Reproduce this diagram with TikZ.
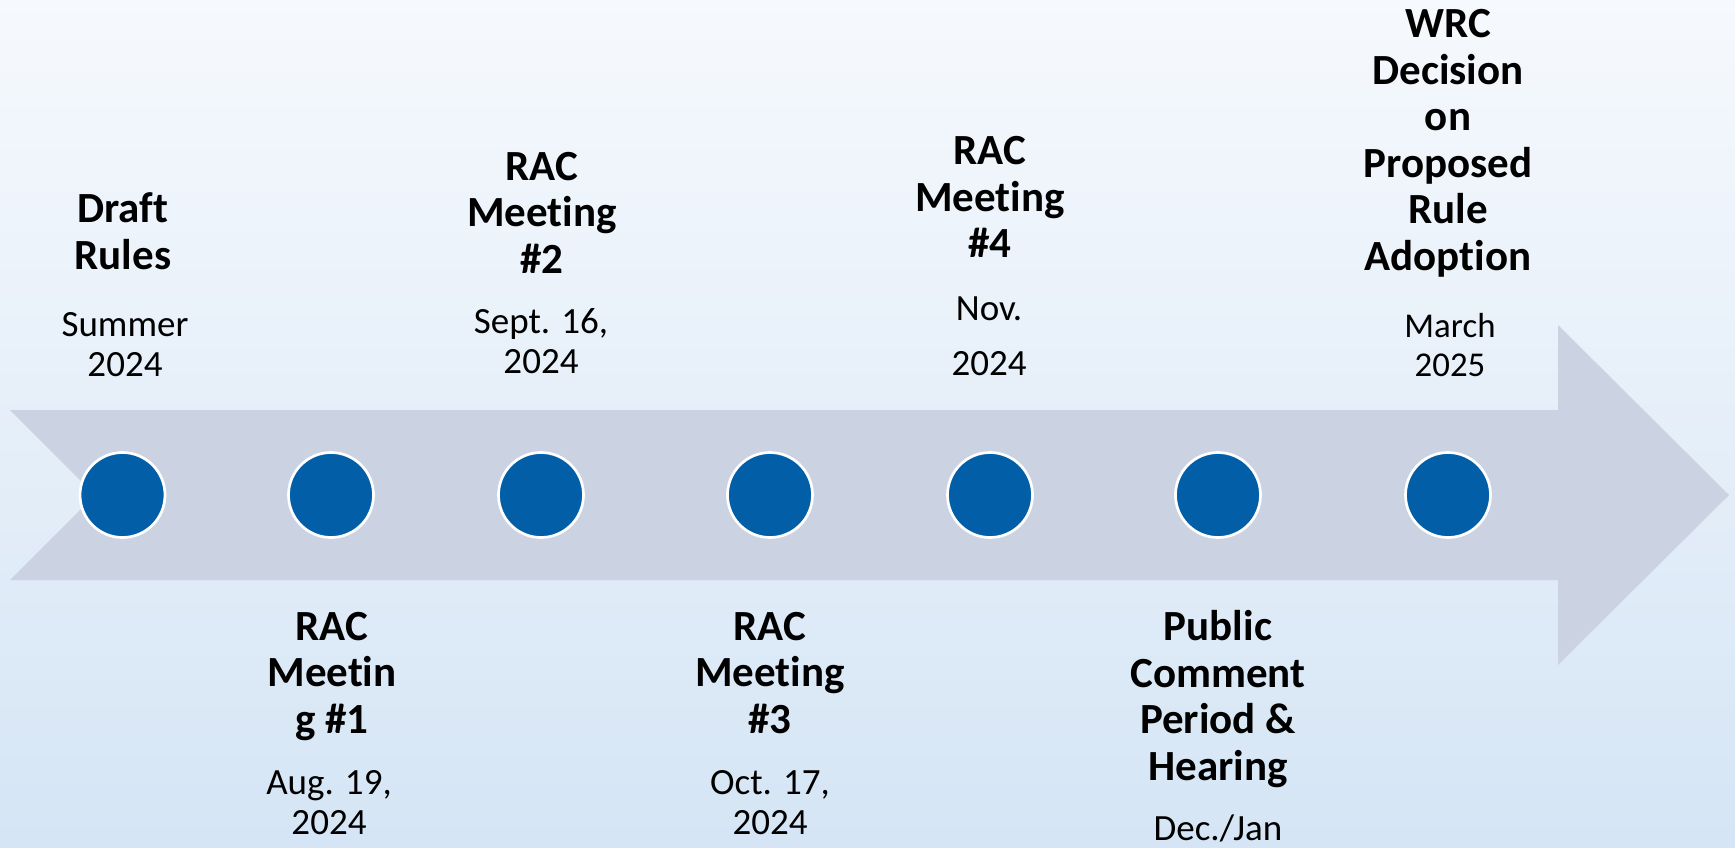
\documentclass[tikz,border=0pt]{standalone}
\usepackage{fontspec}
\setmainfont{Carlito}[Ligatures={NoCommon}]
\definecolor{bgtop}{RGB}{246,249,253}
\definecolor{bgbot}{RGB}{213,229,245}
\definecolor{arrowgray}{RGB}{203,211,226}
\definecolor{dotblue}{RGB}{2,94,166}
\tikzset{
  milestone/.style={circle,fill=dotblue,draw=white,line width=2.7pt,minimum size=85pt,inner sep=0pt},
  titletext/.style={anchor=base,align=center,inner sep=0pt,font=\fontsize{43}{46.5}\selectfont\bfseries},
  datetext/.style={anchor=base,align=center,inner sep=0pt,font=\fontsize{37}{40}\selectfont},
}
\begin{document}
\begin{tikzpicture}[x=1pt,y=-1pt]
\useasboundingbox (0,0) rectangle (1735,847);
\shade[top color=bgtop,bottom color=bgbot] (0,0) rectangle (1735,847);
% arrow
\fill[arrowgray] (10,410) -- (1558,410) -- (1558,325) -- (1729,495) -- (1558,665) -- (1558,580) -- (10,580) -- (95,495) -- cycle;
% milestones
\node[milestone] (m1) at (122.5,495) {};
\node[milestone] (m2) at (331,495) {};
\node[milestone] (m3) at (541,495) {};
\node[milestone] (m4) at (770,495) {};
\node[milestone] (m5) at (990,495) {};
\node[milestone] (m6) at (1218,495) {};
\node[milestone] (m7) at (1448,495) {};
% top labels (anchor base = baseline of the last line)
\node[titletext] (t1) at (123,269) {Draft\\Rules};
\node[datetext] (d1) at (125,376) {Summer\\2024};
\node[titletext] (t3) at (542,273.3) {RAC\\Meeting\\\#2};
\node[datetext] (d3) at (541,373.3) {Sept. 16,\\2024};
\node[titletext] (t5) at (990,257.7) {RAC\\Meeting\\\#4};
\node[datetext] (d5) at (989,375) {Nov.\\[15pt]2024};
\node[titletext] (t7) at (1448,270) {WRC\\Decision\\on\\Proposed\\Rule\\Adoption};
\node[datetext,font=\fontsize{34.8}{39.4}\selectfont] (d7) at (1450,376.7) {March\\2025};
% bottom labels
\node[titletext] (t2) at (332,733.3) {RAC\\Meetin\\g \#1};
\node[datetext] (d2) at (329,834.3) {Aug. 19,\\2024};
\node[titletext] (t4) at (770,733) {RAC\\Meeting\\\#3};
\node[datetext] (d4) at (770,834) {Oct. 17,\\2024};
\node[titletext] (t6) at (1218,780) {Public\\Comment\\Period \&\\Hearing};
\node[datetext] (d6) at (1218,840) {Dec./Jan};
\end{tikzpicture}
\end{document}
